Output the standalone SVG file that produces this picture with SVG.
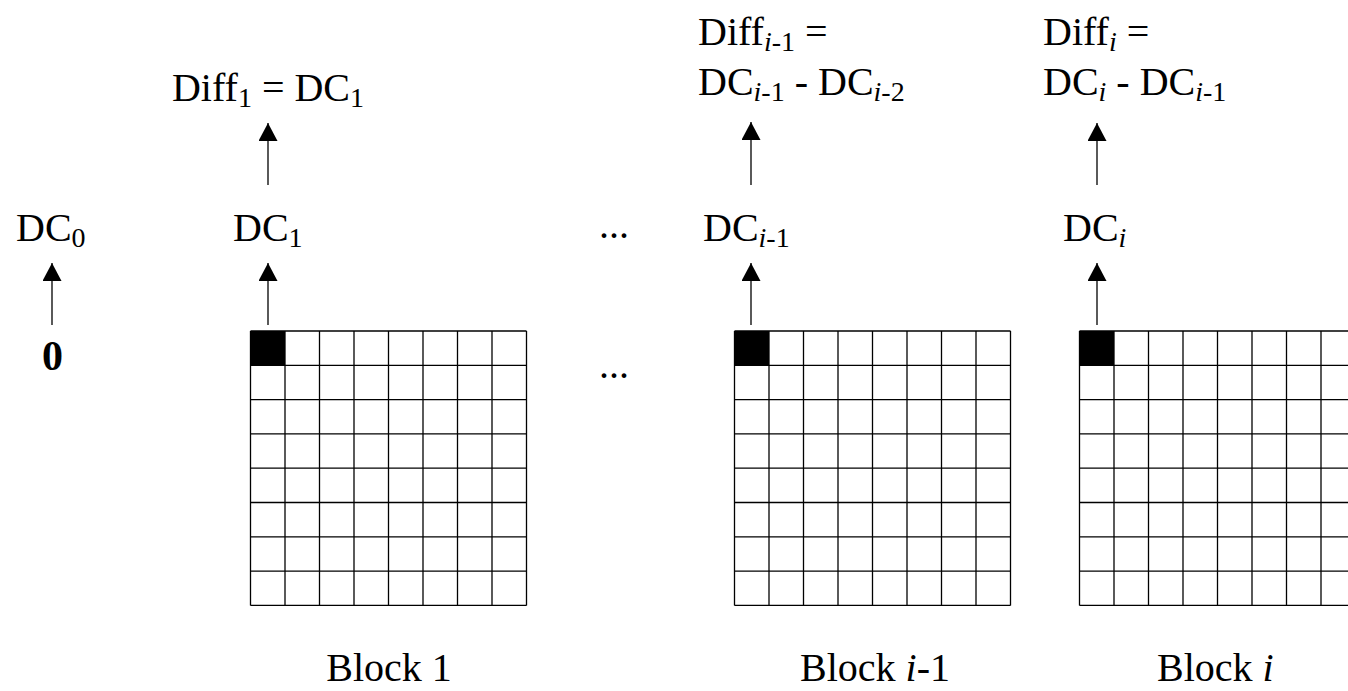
<svg xmlns="http://www.w3.org/2000/svg" width="1348" height="691" viewBox="0 0 1348 691">
<style>
text{font-family:"Liberation Serif","Times New Roman",serif;font-size:40px;fill:#000}
.sub{font-size:28px}
.it{font-style:italic}
.b{font-weight:bold;font-size:42px}
.grid line{stroke:#000;stroke-width:1.3}
.conn line{stroke:#000;stroke-width:1.3}
</style>
<defs>
<marker id="ah" markerUnits="userSpaceOnUse" markerWidth="19" markerHeight="19" refX="18" refY="9.5" orient="auto" viewBox="0 0 19 19">
<path d="M0,0 L18,9.5 L0,19 z" fill="#000"/>
</marker>
<g id="gridlines" class="grid">
<rect x="0" y="0" width="34.5" height="34.3" fill="#000"/>
<line x1="0" y1="0" x2="276" y2="0"/>
<line x1="0" y1="34.3" x2="276" y2="34.3"/>
<line x1="0" y1="68.6" x2="276" y2="68.6"/>
<line x1="0" y1="102.9" x2="276" y2="102.9"/>
<line x1="0" y1="137.2" x2="276" y2="137.2"/>
<line x1="0" y1="171.5" x2="276" y2="171.5"/>
<line x1="0" y1="205.8" x2="276" y2="205.8"/>
<line x1="0" y1="240.1" x2="276" y2="240.1"/>
<line x1="0" y1="274.4" x2="276" y2="274.4"/>
<line x1="0" y1="0" x2="0" y2="274.4"/>
<line x1="34.5" y1="0" x2="34.5" y2="274.4"/>
<line x1="69" y1="0" x2="69" y2="274.4"/>
<line x1="103.5" y1="0" x2="103.5" y2="274.4"/>
<line x1="138" y1="0" x2="138" y2="274.4"/>
<line x1="172.5" y1="0" x2="172.5" y2="274.4"/>
<line x1="207" y1="0" x2="207" y2="274.4"/>
<line x1="241.5" y1="0" x2="241.5" y2="274.4"/>
<line x1="276" y1="0" x2="276" y2="274.4"/>
</g>
</defs>
<g id="block1" transform="translate(250.5,331)"><use href="#gridlines"/></g>
<g id="blockim1" transform="translate(734.5,331)"><use href="#gridlines"/></g>
<g id="blocki" transform="translate(1079.5,331)"><use href="#gridlines"/></g>

<g id="connectors" class="conn">
<line x1="52" y1="325" x2="52" y2="263" marker-end="url(#ah)"/>
<line x1="268" y1="325" x2="268" y2="263" marker-end="url(#ah)"/>
<line x1="268" y1="185" x2="268" y2="123" marker-end="url(#ah)"/>
<line x1="751" y1="325" x2="751" y2="263" marker-end="url(#ah)"/>
<line x1="751" y1="185" x2="751" y2="122" marker-end="url(#ah)"/>
<line x1="1097" y1="325" x2="1097" y2="263" marker-end="url(#ah)"/>
<line x1="1097" y1="185" x2="1097" y2="123" marker-end="url(#ah)"/>
</g>

<g id="zero"><text x="52.5" y="370" text-anchor="middle" class="b">0</text></g>
<g id="dc0"><text x="16" y="241">DC<tspan class="sub" dy="6">0</tspan></text></g>
<g id="dc1"><text x="233" y="241">DC<tspan class="sub" dy="6">1</tspan></text></g>
<g id="diff1"><text x="268" y="101" text-anchor="middle">Diff<tspan class="sub" dy="6">1</tspan><tspan dy="-6"> = DC</tspan><tspan class="sub" dy="6">1</tspan></text></g>
<g id="dcim1"><text x="703" y="241">DC<tspan class="sub" dy="6"><tspan class="it">i</tspan>-1</tspan></text></g>
<g id="diffim1">
<text x="698" y="45">Diff<tspan class="sub" dy="6"><tspan class="it">i</tspan>-1</tspan><tspan dy="-6"> =</tspan></text>
<text x="698" y="95">DC<tspan class="sub" dy="6"><tspan class="it">i</tspan>-1</tspan><tspan dy="-6"> - DC</tspan><tspan class="sub" dy="6"><tspan class="it">i</tspan>-2</tspan></text>
</g>
<g id="dci"><text x="1063" y="241">DC<tspan class="sub it" dy="6">i</tspan></text></g>
<g id="diffi">
<text x="1043" y="45">Diff<tspan class="sub it" dy="6">i</tspan><tspan dy="-6"> =</tspan></text>
<text x="1043" y="95">DC<tspan class="sub it" dy="6">i</tspan><tspan dy="-6"> - DC</tspan><tspan class="sub" dy="6"><tspan class="it">i</tspan>-1</tspan></text>
</g>
<g id="dots">
<text x="614" y="238" text-anchor="middle">...</text>
<text x="614" y="378" text-anchor="middle">...</text>
</g>
<g id="labels">
<text x="389" y="681" text-anchor="middle">Block 1</text>
<text x="875" y="681" text-anchor="middle">Block <tspan class="it">i</tspan>-1</text>
<text x="1157" y="681">Block <tspan class="it">i</tspan></text>
</g>
</svg>
